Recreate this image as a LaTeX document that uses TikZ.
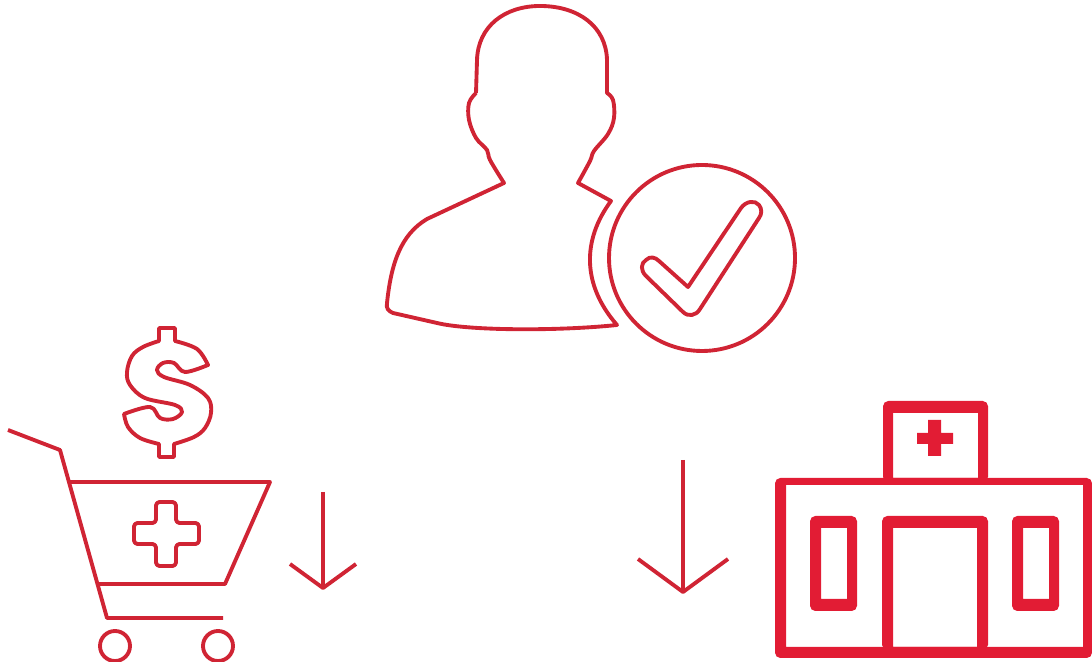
\documentclass[tikz,border=0pt]{standalone}
\usepackage{tikz}
\usetikzlibrary{calc}
\definecolor{iconred}{RGB}{208,36,52}
\definecolor{wallred}{RGB}{226,28,52}
\tikzset{
  thinline/.style={draw=iconred, line width=1.1pt, line join=round},
  wheel/.style={thinline},
  wall/.style={fill=wallred, even odd rule, rounded corners=1.5pt}
}
\begin{document}
\begin{tikzpicture}[x=0.01cm, y=-0.01cm]
  \useasboundingbox (0,0) rectangle (1092,662);

  % Person
  \draw[thinline] (476,93) -- (477,60)
    .. controls (478,26) and (505,6) .. (540,6)
    .. controls (578,6) and (606,26) .. (607,60)
    -- (607,93)
    -- plot[smooth, tension=0.6] coordinates {(607,93) (613,100) (614,118) (608,134) (594,151) (590,161) (578,183)}
    -- (611,201)
    .. controls (582,240) and (582,285) .. (617,325)
    .. controls (560,331) and (470,331) .. (437,323)
    -- (393,313)
    .. controls (388,311) and (386,308) .. (387,303)
    .. controls (391,265) and (400,235) .. (427,219)
    -- (504,183)
    -- plot[smooth, tension=0.6] coordinates {(504,183) (490,160) (487,150) (476,138) (469,120) (469,103) (476,93)};

  % Check badge
  \draw[thinline] (702,258) circle (93);
  \draw[thinline] (688,287) -- (741,208)
    .. controls (746,201) and (755,200) .. (759,205)
    .. controls (762,209) and (762,214) .. (759,218)
    -- (700,309)
    .. controls (696,316) and (688,317) .. (683,312)
    -- (646,276)
    .. controls (640,270) and (641,263) .. (646,260)
    .. controls (650,256) and (655,257) .. (659,261)
    -- cycle;

  % Dollar
  \draw[thinline] (175,328) -- (175,341)
    -- plot[smooth, tension=0.6] coordinates {(175,341) (197,349) (208,365)}
    -- plot[smooth, tension=0.6] coordinates {(208,365) (185,372) (174,363) (163,363) (157,370) (164,377) (190,385) (208,398) (211,413) (205,428) (194,437) (174,444)}
    -- (174,457) -- (159,457) -- (159,444)
    -- plot[smooth, tension=0.6] coordinates {(159,444) (140,438) (128,427) (124,414)}
    -- plot[smooth, tension=0.6] coordinates {(124,414) (150,407) (160,418) (173,419) (182,412) (175,405) (145,398) (130,385) (127,372) (132,356) (143,347) (159,341)}
    -- (159,328) -- cycle;

  % Cart
  \draw[thinline] (8,430) -- (60,450) -- (107,618) -- (223,618);
  \draw[thinline] (69,482) -- (270,482) -- (225,584) -- (98,584);
  \draw[thinline, rounded corners=1pt] (156,502) -- (176,502) -- (176,523) -- (199,523) -- (199,544) -- (176,544) -- (176,566) -- (156,566) -- (156,544) -- (134,544) -- (134,523) -- (156,523) -- cycle;
  \foreach \x in {115,218} \draw[wheel] (\x,646) circle (15);

  % Arrows
  \foreach \x/\ytop/\ytip/\dx/\dy in {323/492/588/33/24, 683/460/592/45/33} {
    \draw[thinline] (\x,\ytop) -- (\x,\ytip);
    \draw[thinline] (\x-\dx,\ytip-\dy) -- (\x,\ytip) -- (\x+\dx,\ytip-\dy);
  }

  % Hospital
  \fill[wall] (883,401) rectangle (988,482) [sharp corners] (893,413) rectangle (978,478);
  \fill[wall] (775,478) rectangle (1092,658) [sharp corners] (786,485) rectangle (1083,647);
  \fill[wall] (882,516) rectangle (988,650) [sharp corners] (893,528) rectangle (977,647);
  \foreach \x in {810,1012} \fill[wall] (\x,516) rectangle (\x+47,611) [sharp corners] (\x+11,528) rectangle (\x+37,599);
  \fill[wallred] (928,420) rectangle (941,456) (917,433) rectangle (953,444);
\end{tikzpicture}
\end{document}
